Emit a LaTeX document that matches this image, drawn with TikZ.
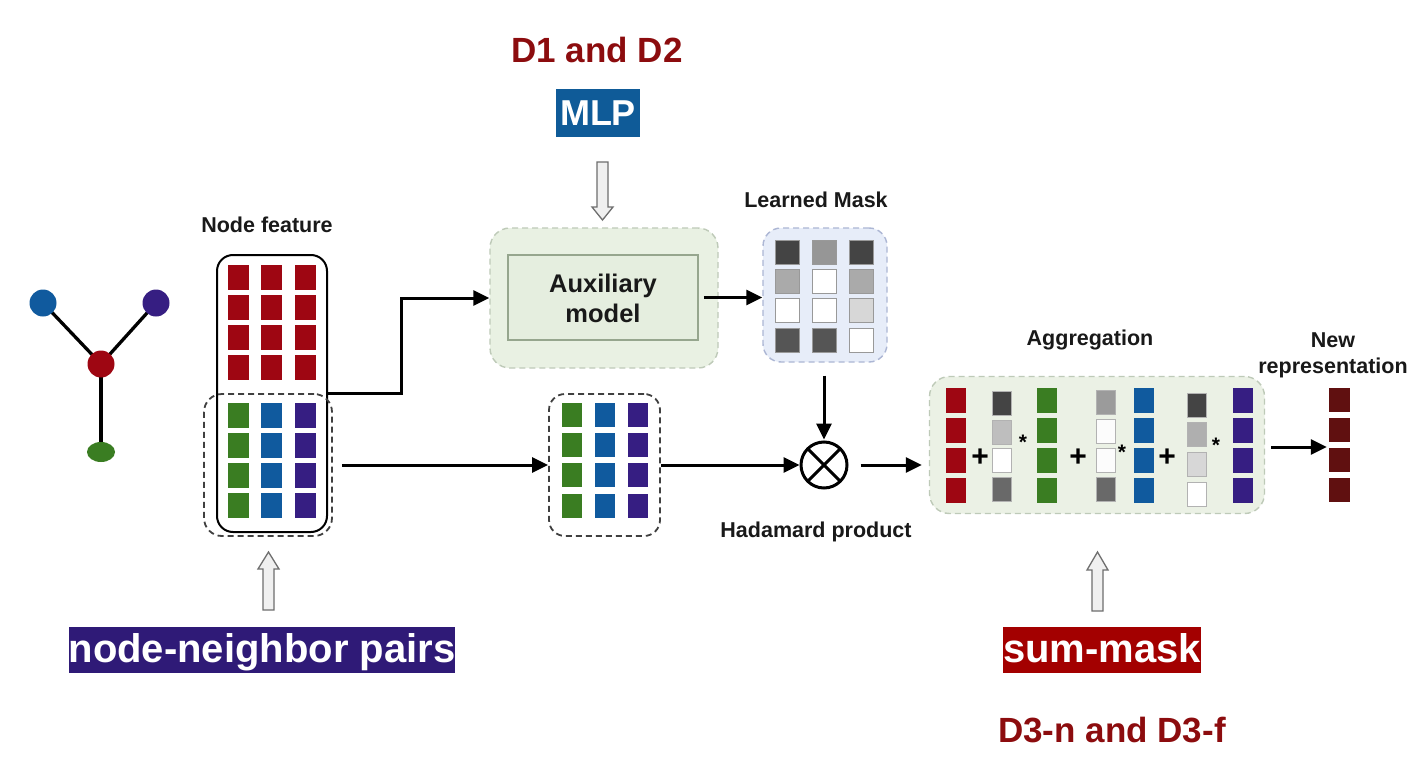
\documentclass[tikz,border=0pt]{standalone}
\usepackage{fontspec}
\setmainfont{Liberation Sans}
\usetikzlibrary{arrows.meta,calc,shapes.geometric}
\definecolor{dred}{RGB}{140,12,14}
\definecolor{mlpblue}{RGB}{15,91,152}
\definecolor{nnpurple}{RGB}{47,26,119}
\definecolor{smred}{RGB}{163,0,0}
\definecolor{cred}{RGB}{158,6,18}
\definecolor{cgreen}{RGB}{58,125,34}
\definecolor{cblue}{RGB}{16,90,158}
\definecolor{cpurple}{RGB}{54,30,130}
\definecolor{cbrown}{RGB}{96,16,16}
\definecolor{auxfill}{RGB}{233,241,227}
\definecolor{auxdash}{RGB}{190,202,184}
\definecolor{auxin}{RGB}{229,238,223}
\definecolor{auxinline}{RGB}{150,166,142}
\definecolor{maskfill}{RGB}{231,237,249}
\definecolor{maskdash}{RGB}{172,182,212}
\definecolor{aggfill}{RGB}{235,241,229}
\definecolor{txt}{RGB}{25,25,25}
\definecolor{hollowfill}{RGB}{240,240,240}
\definecolor{hollowline}{RGB}{110,110,110}
\begin{document}
\begin{tikzpicture}[x=1pt,y=-1pt,
  arr/.style={line width=3pt, draw=black, -{Triangle[length=16pt,width=15pt]}},
  lbl/.style={font=\fontsize{21.5}{26}\selectfont\bfseries, text=txt, inner sep=0pt, align=center},
  big/.style={font=\fontsize{35}{40}\selectfont\bfseries, text=dred, inner sep=0pt},
  tag/.style={font=\fontsize{40}{46}\selectfont\bfseries, text=white, inner sep=0pt, text height=32pt, text depth=8pt},
  gnode/.style={circle, inner sep=0pt, minimum size=27pt},
  box/.style={inner sep=0pt, rectangle},
  hollow/.style={fill=hollowfill, draw=hollowline, line width=1.3pt, line join=miter},
  mcell/.style={draw=gray!80, line width=0.9pt},
  sign/.style={font=\fontsize{30}{32}\selectfont\bfseries, text=black, inner sep=0pt},
  star/.style={font=\fontsize{21}{22}\selectfont\bfseries, text=black, inner sep=0pt},
]
\useasboundingbox[fill=white] (0,0) rectangle (1421,781);

% ---------- graph ----------
\node[gnode] (gb) at (43,303) {};
\node[gnode] (gp) at (156,303) {};
\node[gnode] (gr) at (101,364) {};
\node[ellipse, inner sep=0pt, minimum width=28pt, minimum height=20pt] (gg) at (101,452) {};
\draw[line width=3.3pt] (gr.center) -- (gb.center);
\draw[line width=3.3pt] (gr.center) -- (gp.center);
\draw[line width=3.3pt] (gr.center) -- (gg.center);
\fill[cblue] (gb) circle (13.5pt);
\fill[cpurple] (gp) circle (13.5pt);
\fill[cred] (gr) circle (13.5pt);
\fill[cgreen] (gg) ellipse (14pt and 10pt);

% ---------- node feature ----------
\node[lbl, anchor=base] (nflbl) at (267,232) {Node feature};
\node[box, draw=black, line width=2pt, rounded corners=16pt, minimum width=110pt, minimum height=277pt] (nf) at (272,393.5) {};
\node[box, draw=black!75, line width=1.8pt, dash pattern=on 6pt off 4pt, rounded corners=18pt, minimum width=128pt, minimum height=142pt] (nn) at (268,465) {};
\foreach \x in {228,261,295}{
  \foreach \y in {265,295,325,355}{
    \fill[cred] (\x,\y) rectangle ++(21,25);
  }
}
\foreach \x/\c in {228/cgreen,261/cblue,295/cpurple}{
  \foreach \y in {403,433,463,493}{
    \fill[\c] (\x,\y) rectangle ++(21,25);
  }
}

% ---------- pair box ----------
\node[box, draw=black!75, line width=1.8pt, dash pattern=on 6pt off 4pt, rounded corners=16pt, minimum width=111pt, minimum height=142pt] (pair) at (604.5,465) {};
\foreach \x/\c in {562/cgreen,595/cblue,628/cpurple}{
  \foreach \y in {403,433,463,494}{
    \fill[\c] (\x,\y) rectangle ++(20,24);
  }
}

% ---------- auxiliary model ----------
\node[box, fill=auxfill, draw=auxdash, line width=1.4pt, dash pattern=on 6pt off 4pt, rounded corners=20pt, minimum width=228pt, minimum height=140pt] (aux) at (604,298) {};
\node[box, fill=auxin, draw=auxinline, line width=1.6pt, minimum width=190pt, minimum height=85pt] (auxm) at (603,297.5) {};
\node[lbl, font=\fontsize{25.5}{30}\selectfont\bfseries, anchor=base] (auxt1) at (603,292) {Auxiliary};
\node[lbl, font=\fontsize{25.5}{30}\selectfont\bfseries, anchor=base] (auxt2) at (603,322) {model};

% ---------- learned mask ----------
\node[lbl, anchor=base] (mlbl) at (816,207) {Learned Mask};
\node[box, fill=maskfill, draw=maskdash, line width=1.4pt, dash pattern=on 6pt off 4pt, rounded corners=18pt, minimum width=124pt, minimum height=134pt] (mask) at (825,295) {};
\foreach \x/\y/\g in {
  775/240/68, 812/240/150, 849/240/68,
  775/269/170, 812/269/255, 849/269/170,
  775/298/255, 812/298/255, 849/298/215,
  775/328/85, 812/328/85, 849/328/255}{
  \definecolor{tmpg}{RGB}{\g,\g,\g}
  \filldraw[mcell, fill=tmpg] (\x,\y) rectangle ++(24,24);
}

% ---------- hadamard ----------
\node[circle, draw=black, line width=3pt, minimum size=46pt, inner sep=0pt] (had) at (824,465) {};
\draw[line width=3pt] ($(had.center)+(-16.3,-16.3)$) -- ($(had.center)+(16.3,16.3)$);
\draw[line width=3pt] ($(had.center)+(-16.3,16.3)$) -- ($(had.center)+(16.3,-16.3)$);
\node[lbl, anchor=base] (hlbl) at (816,537) {Hadamard product};

% ---------- aggregation ----------
\node[lbl, anchor=base] (alb) at (1090,345) {Aggregation};
\node[box, fill=aggfill, draw=auxdash, line width=1.4pt, dash pattern=on 6pt off 4pt, rounded corners=20pt, minimum width=335pt, minimum height=137pt] (agg) at (1097,445) {};
\foreach \x/\c in {946/cred,1037/cgreen,1134/cblue,1233/cpurple}{
  \foreach \y in {388,418,448,478}{
    \fill[\c] (\x,\y) rectangle ++(20,25);
  }
}
\foreach \x/\y/\g in {
  992/391/68, 992/420/190, 992/448/255, 992/477/105,
  1096/390/155, 1096/419/252, 1096/448/252, 1096/477/105,
  1187/393/68, 1187/422/175, 1187/452/215, 1187/482/255}{
  \definecolor{tmpg}{RGB}{\g,\g,\g}
  \filldraw[mcell, fill=tmpg, draw=gray!60] (\x,\y) rectangle ++(19,24);
}
\node[sign] (p1) at (980,458) {+};
\node[sign] (p2) at (1078,458) {+};
\node[sign] (p3) at (1167,458) {+};
\node[star] (s1) at (1023,442) {*};
\node[star] (s2) at (1122,452) {*};
\node[star] (s3) at (1216,445) {*};

% ---------- new representation ----------
\node[lbl, anchor=base] (nrl1) at (1333,347) {New};
\node[lbl, anchor=base] (nrl2) at (1333,373) {representation};
\node[box, minimum width=21pt, minimum height=115pt] (nr) at (1339.5,447) {};
\foreach \y in {388,418,448,478}{
  \fill[cbrown] (1329,\y) rectangle ++(21,24);
}

% ---------- connectors ----------
\draw[arr] (nf.east |- nn.north) -- ++(73,0) |- (aux.west);
\draw[arr, shorten <=9pt] (nn.east) -- (pair.west);
\draw[arr, shorten <=5pt] (auxm.east) -- (auxm.east -| mask.west);
\draw[arr, shorten <=13pt, shorten >=1pt] (had.north |- mask.south) -- (had.north);
\draw[arr] (pair.east) -- (had.west);
\draw[arr, shorten <=12pt, shorten >=7pt] (had.east) -- (had.east -| agg.west);
\draw[arr, shorten <=6pt, shorten >=2pt] (nr.west -| agg.east) -- (nr.west);

% ---------- top annotations ----------
\node[big, anchor=base] (d12) at (597,63) {D1 and D2};
\node[box, fill=mlpblue, font=\fontsize{36}{40}\selectfont\bfseries, text=white, text height=26pt, text depth=0pt, minimum width=84pt, minimum height=48pt] (mlp) at (598,113) {MLP};
\draw[hollow] (597,162) -- (608,162) -- (608,207) -- (613,207) -- (602.5,220) -- (592,207) -- (597,207) -- cycle;

% ---------- bottom annotations ----------
\draw[hollow] (263,610) -- (274,610) -- (274,569) -- (279,569) -- (268.5,552) -- (258,569) -- (263,569) -- cycle;
\node[tag, fill=nnpurple, minimum width=386pt, minimum height=46pt] (nnp) at (262,650) {node-neighbor pairs};
\draw[hollow] (1092,611) -- (1103,611) -- (1103,570) -- (1108,570) -- (1097.5,552) -- (1087,570) -- (1092,570) -- cycle;
\node[tag, fill=smred, minimum width=198pt, minimum height=46pt] (sm) at (1102,650) {sum-mask};
\node[big, anchor=base] (d3) at (1112,742) {D3-n and D3-f};
\end{tikzpicture}
\end{document}
